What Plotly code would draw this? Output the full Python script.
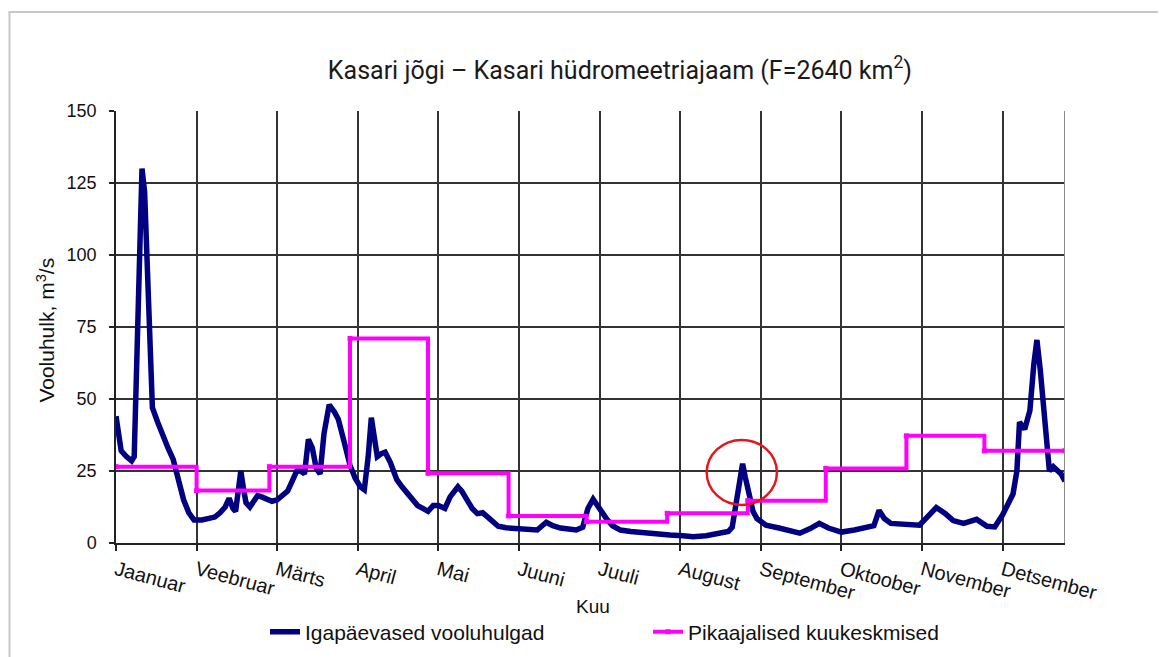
import plotly.graph_objects as go

# ---- data ----
month_labels = ["Jaanuar", "Veebruar", "Märts", "April", "Mai", "Juuni",
                "Juuli", "August", "September", "Oktoober", "November", "Detsember"]
tick_days = [0, 31, 62, 93, 124, 155, 186, 217, 248, 279, 310, 341]

# daily discharge (day of year, m3/s)
flow_day = [0, 1, 2, 4, 6, 7, 8, 9, 10, 11, 12, 13, 14, 16, 18, 20, 22, 24, 26, 28, 30,
            33, 36, 38, 40, 42, 43.5, 45, 46, 47, 48, 49, 50, 51.5, 53, 54.5, 56, 58, 60,
            62, 64, 66, 67.5, 69.5, 71, 72.5, 74, 75.5, 77, 78.5, 80, 82, 84, 85.5, 87.5,
            90, 92, 94, 95.5, 97, 98.2, 99.5, 100.5, 102, 103.5, 105.5, 108, 110, 112, 114,
            116, 118, 120, 122, 124, 126.5, 128.5, 131.5, 133, 135, 137, 139, 141, 143, 145,
            147, 150, 154, 158, 162, 165.5, 168, 171, 174, 177, 179.5, 181.5, 183.5, 185,
            187, 189, 191, 194, 198, 203, 208, 213, 218, 222, 227, 232, 235.5, 237, 238.5,
            240, 241, 242, 243.5, 245, 246.5, 250, 255, 259, 263, 267, 270.5, 274, 279, 284,
            289, 291.5, 293.5, 295.5, 298, 303, 309, 312, 315.5, 319, 322, 326, 331, 335,
            338, 341, 343, 345, 346.5, 347.5, 349.5, 351.5, 353, 354.2, 355.5, 357.5, 359,
            360.5, 362, 363.5, 365]
flow_val = [44, 37, 32, 30, 28.5, 30, 60, 105, 130, 122, 95, 62, 47, 42, 37, 33, 29, 22, 15, 10.5, 8,
            8, 8.5, 9, 10.5, 12.5, 15.5, 12, 11, 18, 25, 19, 14, 12.5, 15, 16.5, 16, 15, 14.5,
            15, 16.5, 18, 21, 25, 25, 24, 36, 33, 26, 24, 38, 48, 45.5, 43, 36,
            27, 22.5, 19.5, 18.5, 30, 43.5, 35, 30, 31, 31.5, 28, 22, 19.5, 17.5, 15,
            13, 12, 11, 13, 13, 12, 16, 19.5, 18, 15, 12, 10.2, 10.5, 9, 7.5,
            5.8, 5.3, 5.1, 4.8, 4.5, 7.2, 6, 5.2, 4.8, 4.5, 5.5, 12, 15.2, 13,
            10.5, 8, 6, 4.5, 4, 3.5, 3.2, 2.8, 2.5, 2.2, 2.5, 3.2, 4, 5.5, 13,
            22, 27.5, 23, 16, 11, 8.5, 6.2, 5.2, 4.2, 3.4, 5, 6.8, 5.2, 3.8, 4.5,
            5.5, 6, 11.3, 8.5, 6.8, 6.5, 6.2, 9, 12.3, 10.2, 7.8, 6.8, 8.2, 5.8,
            5.6, 9.8, 13, 17, 25, 42, 39.5, 46, 62, 70.5, 60, 38, 25,
            26.5, 25.5, 24, 21.5]

# long-term monthly means (step starts at first day of each month)
month_start = [0, 31, 59, 90, 120, 151, 181, 212, 243, 273, 304, 334, 365]
month_mean = [26.5, 18.2, 26.5, 71, 24.2, 9.4, 7.4, 10.3, 14.7, 25.9, 37.2, 32, 32]

x_min, x_max = 0, 365
y_min, y_max = 0, 150

fig = go.Figure()
fig.add_trace(go.Scatter(
    x=flow_day, y=flow_val, mode="lines", name="Igapäevased vooluhulgad",
    line=dict(color="#000080", width=5.5)))
fig.add_trace(go.Scatter(
    x=month_start, y=month_mean, mode="lines+markers", name="Pikaajalised kuukeskmised",
    line=dict(color="#FF00FF", width=4, shape="hv"),
    marker=dict(color="#FF00FF", size=5, symbol="square")))

# red circle highlighting the August peak
fig.add_shape(type="circle", xref="x", yref="y", x0=227.2, x1=254.2, y0=13.2, y1=35.8,
              line=dict(color="#E3171C", width=2.5))
# right border of plot
fig.add_shape(type="line", xref="x", yref="y", x0=x_max, x1=x_max, y0=y_min, y1=y_max,
              line=dict(color="#8a8a8a", width=2))
# gray frame of the page (left and top)
fig.add_shape(type="line", xref="paper", yref="paper", x0=-0.1122, x1=-0.1122, y0=1.229, y1=-0.27,
              line=dict(color="#c8c8c8", width=2))
fig.add_shape(type="line", xref="paper", yref="paper", x0=-0.1132, x1=1.12, y0=1.229, y1=1.229,
              line=dict(color="#c8c8c8", width=2))

fig.add_annotation(text="Kuu", xref="paper", yref="paper", x=0.503, y=-0.148,
                   xanchor="center", yanchor="middle",
                   showarrow=False, font=dict(family="Liberation Sans, Arial", size=19, color="#111"))
fig.add_annotation(text="Vooluhulk, m<sup>3</sup>/s", xref="paper", yref="paper",
                   x=-0.0742, y=0.493, xanchor="center", yanchor="middle",
                   textangle=-90, showarrow=False,
                   font=dict(family="Liberation Sans, Arial", size=21, color="#111"))

# page body has an 8px margin, so the figure is shifted by 8px; compensate
W, H = 1158, 649
fig.update_layout(
    width=W, height=H,
    margin=dict(l=107.5, r=101, t=103, b=114, autoexpand=False),
    paper_bgcolor="white", plot_bgcolor="white",
    title=dict(text="Kasari jõgi – Kasari hüdromeetriajaam (F=2640 km<sup>2</sup>)",
               x=0.531, xref="paper", y=1 - 62 / H, yref="container",
               xanchor="center", yanchor="middle",
               font=dict(family="Roboto", size=25, color="#1a1a1a")),
    showlegend=True,
    legend=dict(orientation="h", x=0.157, y=-0.206, xanchor="left", yanchor="middle",
                font=dict(family="Liberation Sans, Arial", size=21, color="#111"),
                entrywidth=338, entrywidthmode="pixels",
                tracegroupgap=0, bgcolor="rgba(0,0,0,0)"),
    xaxis=dict(range=[x_min, x_max], tickmode="array", tickvals=tick_days, ticktext=month_labels,
               tickangle=15, showgrid=True, gridcolor="#333", gridwidth=1.5,
               showline=True, linecolor="#222", linewidth=1.5,
               ticks="outside", ticklen=6, tickcolor="#222", tickwidth=1.5,
               tickfont=dict(family="Liberation Sans, Arial", size=20, color="#111"),
               zeroline=False, fixedrange=True),
    yaxis=dict(range=[y_min, y_max], tickmode="array", tickvals=[0, 25, 50, 75, 100, 125, 150],
               showgrid=True, gridcolor="#333", gridwidth=1.5,
               showline=True, linecolor="#222", linewidth=1.5,
               ticks="outside", ticklen=5, tickcolor="#222", tickwidth=1.5,
               ticklabelstandoff=9,
               tickfont=dict(family="Liberation Sans, Arial", size=18, color="#111"),
               zeroline=False, fixedrange=True),
)

fig.write_html("out.html")
